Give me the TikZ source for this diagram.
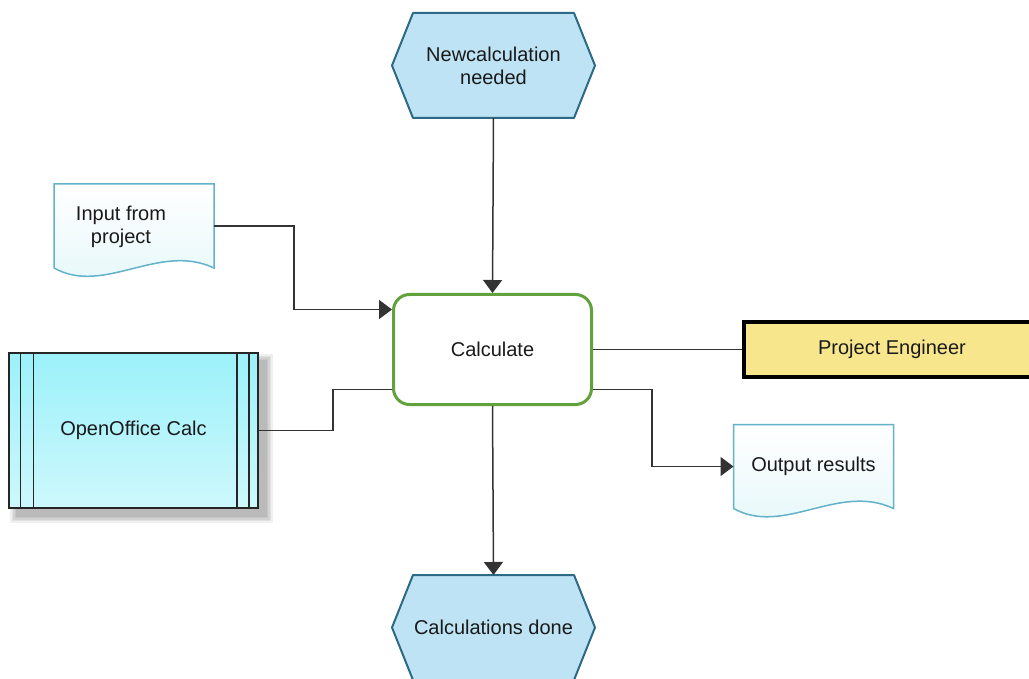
\documentclass[tikz,border=0pt]{standalone}
\usepackage{fontspec}
\setmainfont{Liberation Sans}
\usetikzlibrary{arrows.meta,calc,backgrounds}

\definecolor{evfill}{HTML}{BEE3F4}
\definecolor{evline}{HTML}{2C6A86}
\definecolor{fnline}{HTML}{62A23C}
\definecolor{docline}{HTML}{62B2CA}
\definecolor{doclow}{HTML}{E4F7FA}
\definecolor{apptop}{HTML}{9CF1FA}
\definecolor{appbot}{HTML}{CDF8FC}
\definecolor{orgfill}{HTML}{F8E68C}
\definecolor{flowline}{HTML}{333333}
\definecolor{txt}{HTML}{1A1A1A}

% event hexagon outline around a named node
\newcommand\eventhex[1]{%
  \filldraw[evshape] (#1.west) -- ([xshift=21pt]#1.north west)
    -- ([xshift=-21pt]#1.north east) -- (#1.east)
    -- ([xshift=-21pt]#1.south east) -- ([xshift=21pt]#1.south west) -- cycle;}
% document outline with a wavy lower edge around a named node
\newcommand\docoutline[1]{%
  \path[docshape] (#1.north west) -- (#1.north east) -- (#1.south east)
    .. controls ($(#1.south east)+(-55,-26)$) and ($(#1.south west)+(50,28)$) .. (#1.south west)
    -- cycle;}

\begin{document}
\begin{tikzpicture}[x=1pt,y=-1pt,
  every node/.style={font=\fontsize{20}{23}\selectfont, text=txt, align=center, inner sep=0pt},
  eventbox/.style={minimum width=203pt, minimum height=105pt, outer sep=0pt},
  evshape/.style={fill=evfill, draw=evline, line width=2pt, line join=round},
  funcbox/.style={draw=fnline, fill=white, line width=3pt, rounded corners=16pt,
    minimum width=198pt, minimum height=110pt},
  docbox/.style={minimum width=160pt, minimum height=84pt, outer sep=0pt},
  docshape/.style={draw=docline, line width=1.5pt, top color=white, bottom color=doclow},
  appbox/.style={draw=black!85, line width=1.5pt, top color=apptop, bottom color=appbot,
    minimum width=249pt, minimum height=155pt},
  appline/.style={draw=black!85, line width=1.5pt},
  orgbox/.style={draw=black, line width=3.5pt, fill=orgfill,
    minimum width=296pt, minimum height=55pt},
  flow/.style={draw=flowline, line width=1.5pt},
  arr/.style={-{Triangle[length=13pt,width=19pt]}}
]
\useasboundingbox (0,0) rectangle (1029,679);

% events
\node[eventbox] (ev1) at (493.5,65.5) {Newcalculation\\needed};
\node[eventbox] (ev2) at (493.5,627.5) {Calculations done};

% function
\node[funcbox] (fn) at (492.5,349.5) {Calculate};

% documents
\node[docbox] (in) at (134,226) {};
\node (intext) at (121,226.5) {Input from\\project};
\node[docbox] (out) at (813.5,466.5) {Output results};

% application system
\node[appbox] (app) at (133.5,430.5) {OpenOffice Calc};
\draw[appline] ([xshift=12pt]app.north west) -- ([xshift=12pt]app.south west);
\draw[appline] ([xshift=25pt]app.north west) -- ([xshift=25pt]app.south west);
\draw[appline] ([xshift=-10pt]app.north east) -- ([xshift=-10pt]app.south east);
\draw[appline] ([xshift=-22pt]app.north east) -- ([xshift=-22pt]app.south east);

% organisational unit
\node[orgbox] (org) at (892,349.5) {Project Engineer};

% shapes behind the texts
\begin{scope}[on background layer]
  \fill[white] (0,0) rectangle (1029,679);
  \foreach \r in {0,1.5,...,6}
    \fill[black, opacity=0.06] ($(app.north west)+(8-\r,8-\r)$) rectangle ($(app.south east)+(8+\r,8+\r)$);
  \eventhex{ev1}
  \eventhex{ev2}
  \docoutline{in}
  \docoutline{out}
\end{scope}

% connectors
\coordinate (fnIn) at ($(fn.west)+(0,-40)$);
\coordinate (fnRes) at ($(fn.west)+(0,40)$);
\coordinate (fnOut) at ($(fn.east)+(0,40)$);

\draw[flow, arr] (ev1.south) -- (fn.north);
\draw[flow, arr] (in.east) -- ++(80,0) |- (fnIn);
\draw[flow] (app.east) -- ++(74,0) |- (fnRes);
\draw[flow] (fn.east) -- (org.west);
\draw[flow, arr] (fnOut) -- ++(59,0) |- (out.west);
\draw[flow, arr] (fn.south) -- (ev2.north);
\end{tikzpicture}
\end{document}
